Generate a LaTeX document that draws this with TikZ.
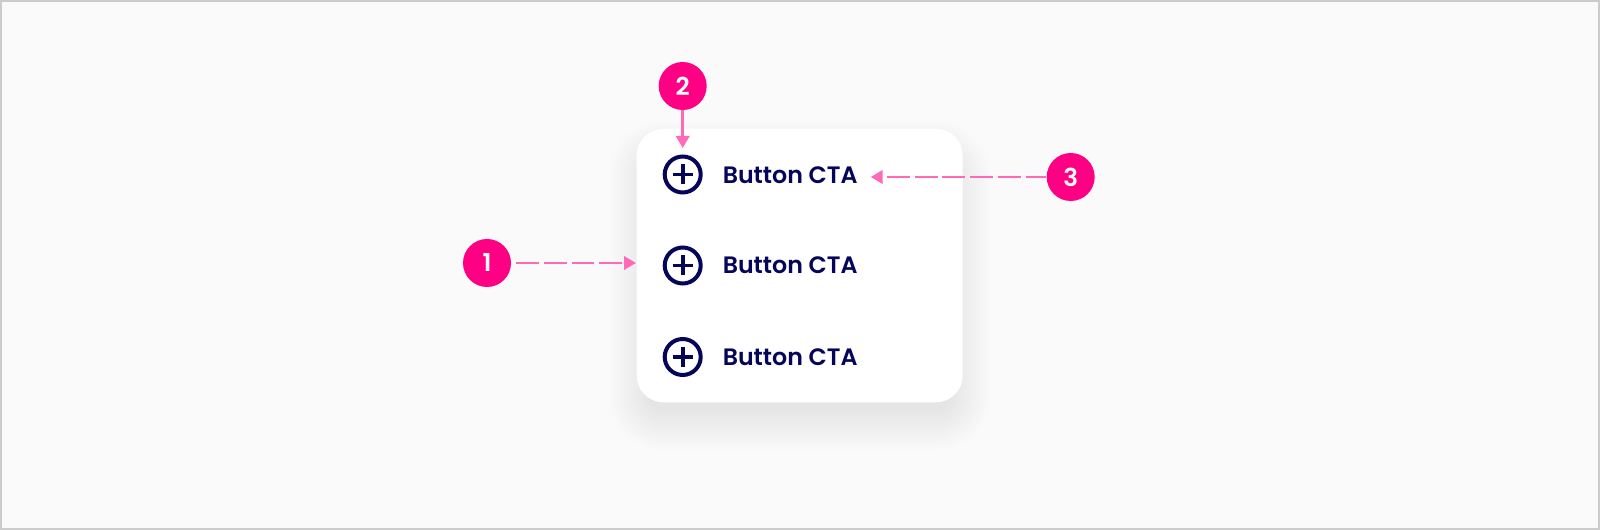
\documentclass[tikz,border=0pt]{standalone}
\usepackage{fontspec}
\setmainfont{Poppins}[BoldFont=Poppins SemiBold]
\usetikzlibrary{arrows.meta}
\definecolor{pagegrey}{HTML}{FAFAFA}
\definecolor{rimgrey}{HTML}{CCCCCC}
\definecolor{badgepink}{HTML}{FF0084}
\definecolor{linepink}{HTML}{FF69B6}
\definecolor{inknavy}{HTML}{05055A}
\tikzset{
  badge/.style={circle,fill=badgepink,text=white,minimum size=36pt,inner sep=0pt,font=\fontsize{18.5}{20}\selectfont\bfseries},
  plusicon/.style={circle,draw=inknavy,line width=3pt,minimum size=27pt,inner sep=0pt,
    path picture={\draw[inknavy,line width=2.8pt] (path picture bounding box.center) +(-7.5pt,0) -- +(7.5pt,0) +(0,-7.5pt) -- +(0,7.5pt);}},
  btnlabel/.style={inner sep=0pt,anchor=west,text=inknavy,font=\fontsize{17.8}{20}\selectfont\bfseries},
  callout/.style={linepink,line width=2pt,-{Triangle[length=9pt,width=10pt,sep=0pt]}},
  calloutrev/.style={linepink,line width=2pt,{Triangle[length=9pt,width=10pt,sep=0pt]}-},
  longdash/.style={dash pattern=on 17.2pt off 3.6pt,dash phase=17.2pt}
}
\begin{document}
\begin{tikzpicture}[x=0.75pt,y=0.75pt,yscale=-1,xscale=1]
\useasboundingbox (0,0) rectangle (1600,530);

% Page
\draw [rimgrey,fill=pagegrey,line width=1.5pt] (1,1) rectangle (1599,529);
% Card shadow
\foreach \s in {-12,-10,...,28} {
  \pgfmathsetmacro{\rad}{20+0.75*\s}
  \fill [black,opacity=0.0035,rounded corners=\rad pt] (636.7-\s,149-\s) rectangle (962.7+\s,422+\s);
}
% Card
\node (card) at (799.7,265.6) [fill=white,rounded corners=20pt,minimum width=244.5pt,minimum height=205pt,inner sep=0pt,outer sep=0pt] {};
% Icons
\node (plustop) at (682.7,174.5) [plusicon] {};
\node (plusmid) at (682.7,265.5) [plusicon] {};
\node (plusbot) at (682.7,357) [plusicon] {};
% Text Node
\node (labeltop) at (722.5,175.5) [btnlabel] {Button CTA};
\node (labelmid) at (722.5,265.5) [btnlabel] {Button CTA};
\node (labelbot) at (722.5,357.5) [btnlabel] {Button CTA};
% Badges
\node (badgeone) at (487,263) [badge] {1};
\node (badgetwo) at (682.7,86) [badge] {2};
\node (badgethree) at (1070.7,177) [badge] {3};
% Connection
\coordinate (tipone) at (636,263);
\coordinate (tiptwo) at (682.7,148);
\coordinate (tipthree) at (870.7,177);
\draw [callout,longdash] (badgeone) -- (tipone);
\draw [callout] (badgetwo) -- (tiptwo);
\draw [calloutrev,longdash] (tipthree) -- (badgethree);

\end{tikzpicture}
\end{document}
